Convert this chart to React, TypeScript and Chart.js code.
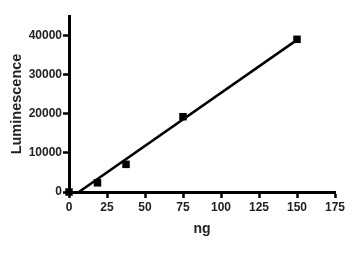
import React, { useEffect, useRef } from "react";
import { Chart, registerables } from "chart.js";

Chart.register(...registerables);

const ngValues = [0, 18.75, 37.5, 75, 150];
const luminescence = [0, 2350, 7070, 19250, 39040];
const fitX = [6.5, 150];
const fitY = [0, 38900];
const xTicks = [0, 25, 50, 75, 100, 125, 150, 175];
const yTicks = [0, 10000, 20000, 30000, 40000];

export default function App() {
  const ref = useRef<HTMLCanvasElement>(null);
  useEffect(() => {
    if (!ref.current) return;
    const font = { family: "Liberation Sans, Arial, sans-serif", weight: "bold" as const };
    const chart = new Chart(ref.current, {
      type: "scatter",
      data: {
        datasets: [
          {
            label: "fit",
            data: fitX.map((x, i) => ({ x, y: fitY[i] })),
            showLine: true,
            borderColor: "#000",
            borderWidth: 2.5,
            pointRadius: 0,
          },
          {
            label: "data",
            data: ngValues.map((x, i) => ({ x, y: luminescence[i] })),
            showLine: false,
            pointStyle: "rect",
            pointRadius: 5.3,
            backgroundColor: "#000",
            borderColor: "#000",
            borderWidth: 0,
            clip: false as any,
          },
        ],
      },
      options: {
        animation: false,
        responsive: false,
        layout: { padding: { top: 16, right: 29, left: 8, bottom: 17 } },
        plugins: { legend: { display: false }, tooltip: { enabled: false } },
        scales: {
          x: {
            type: "linear",
            min: 0,
            max: 175,
            afterBuildTicks: (axis: any) => {
              axis.ticks = xTicks.map((v) => ({ value: v }));
            },
            afterFit: (axis: any) => {
              axis.height = 46;
            },
            ticks: { color: "#222", font: { ...font, size: 12 }, padding: 2, maxRotation: 0 },
            grid: { display: true, drawOnChartArea: false, drawTicks: true, tickLength: 6, tickWidth: 2.5, tickColor: "#000" },
            border: { display: true, width: 3, color: "#000" },
            title: { display: true, text: "ng", color: "#222", font: { ...font, size: 14 }, padding: 0 },
          },
          y: {
            type: "linear",
            min: 0,
            max: 45000,
            afterBuildTicks: (axis: any) => {
              axis.ticks = yTicks.map((v) => ({ value: v }));
            },
            afterFit: (axis: any) => {
              axis.width = 61;
            },
            ticks: { color: "#222", font: { ...font, size: 12 }, padding: 1, callback: (v: any) => String(v) },
            grid: { display: true, drawOnChartArea: false, drawTicks: true, tickLength: 6, tickWidth: 2.5, tickColor: "#000" },
            border: { display: true, width: 3, color: "#000" },
            title: { display: true, text: "Luminescence", color: "#222", font: { ...font, size: 14.5 }, padding: 0 },
          },
        },
      },
    });
    return () => chart.destroy();
  }, []);
  return (
    <div style={{ position: "fixed", left: 0, top: 0, width: 364, height: 255, background: "#fff" }}>
      <canvas ref={ref} width={364} height={255} />
    </div>
  );
}
